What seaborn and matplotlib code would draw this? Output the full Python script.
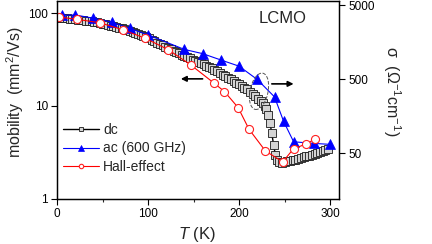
import matplotlib
matplotlib.use('Agg')
import matplotlib.pyplot as plt
import seaborn as sns
from matplotlib.patches import Ellipse
from matplotlib.ticker import NullLocator

# dc conductivity (right axis), Ohm^-1 cm^-1
t_dc = [2, 5, 8, 11, 14, 17, 20, 23, 26, 29, 32, 35, 38, 41, 44, 47, 50, 53, 56, 59,
        62, 65, 68, 71, 74, 77, 80, 83, 86, 89, 92, 95, 98, 101, 104, 107, 110, 113, 116, 119,
        122, 125, 128, 131, 134, 137, 140, 143, 146, 149, 152, 155, 158, 161, 164, 167, 170, 173, 176, 179,
        182, 185, 188, 191, 194, 197, 200, 203, 206, 209, 212, 215, 218, 221, 224,
        226, 228, 230, 232, 234, 236, 238, 240, 242, 244,
        247, 250, 253, 256, 259, 262, 265, 268, 271, 274, 277, 280, 283, 286, 289, 292, 295, 298]
sigma_dc = [3400, 3380, 3350, 3325, 3300, 3270, 3245, 3210, 3180, 3150,
            3105, 3060, 3020, 2980, 2930, 2880, 2830, 2775, 2715, 2660,
            2605, 2545, 2490, 2430, 2370, 2310, 2250, 2180, 2120, 2055,
            1985, 1920, 1850, 1780, 1710, 1640, 1570, 1505, 1440, 1385,
            1330, 1275, 1220, 1170, 1120, 1075, 1030, 995, 960, 923,
            890, 857, 826, 794, 762, 730, 700, 668, 637, 608,
            578, 550, 522, 497, 474, 452, 432, 408, 386, 365,
            341, 316, 295, 272, 251,
            237, 219, 200, 162, 129, 93, 65, 47, 40, 38,
            37.5, 38, 38.8, 39.5, 40.3, 41.2, 42.2, 43.2, 44.2, 45.3,
            46.4, 47.4, 48.7, 50.1, 51.6, 53.2, 55.0, 56.8]

# ac (600 GHz) conductivity (right axis)
t_ac = [5, 20, 40, 60, 80, 100, 140, 160, 180, 200, 220, 239, 249, 260, 282, 300]
sigma_ac = [3650, 3700, 3340, 2970, 2430, 1990, 1265, 1110, 912, 752, 497, 289, 135, 71.5, 68, 66]

# Hall-effect mobility (left axis), mm^2/Vs
t_hall = [2, 22, 47, 72, 97, 122, 147, 172, 184, 199, 211, 229, 248, 260, 274, 283]
mob_hall = [91, 86, 79, 66.5, 53.7, 40.6, 27.7, 17.8, 14.3, 9.6, 5.6, 3.27, 2.49, 3.46, 3.89, 4.37]

sns.set_style('ticks')
plt.rcParams['font.family'] = ['Liberation Sans', 'DejaVu Sans']
plt.rcParams['mathtext.fontset'] = 'custom'
plt.rcParams['mathtext.rm'] = 'Liberation Sans'
plt.rcParams['mathtext.it'] = 'Liberation Sans:italic'

fig = plt.figure(figsize=(4.32, 2.44), dpi=100)
ax = fig.add_axes([0.132, 0.186, 0.653, 0.810])
ax2 = ax.twinx()
ax.set_yscale('log')
ax2.set_yscale('log')

sns.lineplot(x=t_dc, y=sigma_dc, ax=ax2, color='black', lw=1.0, marker='s', markersize=5.4,
             mfc='#d4d4d4', mec='#1a1a1a', mew=0.6, label='dc', legend=False)
sns.lineplot(x=t_ac, y=sigma_ac, ax=ax2, color='#0000ff', lw=0.8, marker='^', markersize=6.8,
             mfc='#0000ff', mec='#0000ff', mew=0.5, label='ac (600 GHz)', legend=False)
sns.lineplot(x=t_hall, y=mob_hall, ax=ax, color='#ff0000', lw=0.8, marker='o', markersize=5.8,
             mfc='white', mec='#ff2020', mew=0.8, label='Hall-effect', legend=False)

# Hall (left axis) drawn on top
ax.set_zorder(ax2.get_zorder() + 1)
ax.patch.set_visible(False)

ax.set_xlim(0, 310)
ax.set_xticks([0, 100, 200, 300])
ax.set_xticks([50, 150, 250], minor=True)
ax.set_ylim(1, 135.7)
ax.set_yticks([1, 10, 100])
ax.set_yticklabels(['1', '10', '100'])
ax.yaxis.set_minor_locator(NullLocator())
ax2.set_ylim(12.2, 5715)
ax2.set_yticks([50, 500, 5000])
ax2.set_yticklabels(['50', '500', '5000'])
ax2.yaxis.set_minor_locator(NullLocator())

for a in (ax, ax2):
    a.tick_params(which='major', direction='out', length=4, width=0.8, labelsize=8.5, pad=2.5, colors='black')
    a.tick_params(which='minor', direction='out', length=2.5, width=0.8)
    for s in a.spines.values():
        s.set_linewidth(0.9)
        s.set_color('black')
ax.tick_params(right=False, top=False)
ax2.tick_params(top=False)
ax.set_xlabel('')
ax.set_ylabel('')
ax2.set_ylabel('')

fig.text(15 / 432, 1 - 92 / 244, 'mobility  (mm$^2$/Vs)', rotation=90, ha='center', va='center', fontsize=11.5)
fig.text(392 / 432, 1 - 91 / 244, 'σ  (Ω$^{-1}$cm$^{-1}$)', rotation=270, ha='center', va='center', fontsize=11.5)
fig.text(197 / 432, 1 - 234 / 244, '$T$ (K)', ha='center', va='center', fontsize=12)
ax.text(0.80, 0.91, 'LCMO', transform=ax.transAxes, ha='center', va='center', fontsize=12)

# arrows pointing to the relevant axis
ax.annotate('', xy=(133, 19.6), xytext=(163, 19.6),
            arrowprops=dict(arrowstyle='-|>', color='black', lw=1.2, mutation_scale=8))
ax.annotate('', xy=(263, 17.3), xytext=(233, 17.3),
            arrowprops=dict(arrowstyle='-|>', color='black', lw=1.2, mutation_scale=8))
ax.add_patch(Ellipse((2.59, 1.527), 0.18, 0.37, angle=-12, transform=fig.dpi_scale_trans,
                     fill=False, ls='--', ec='#555555', lw=0.7, clip_on=False))

handles = ax2.get_lines()[:2] + ax.get_lines()[:1]
ax.legend(handles, ['dc', 'ac (600 GHz)', 'Hall-effect'], loc='upper left', bbox_to_anchor=(0.02, 0.385),
          frameon=False, fontsize=10, handlelength=2.6, handletextpad=0.3, labelspacing=0.35,
          borderpad=0, borderaxespad=0, markerscale=0.55)

fig.savefig('out.png', dpi=100, facecolor='white')
